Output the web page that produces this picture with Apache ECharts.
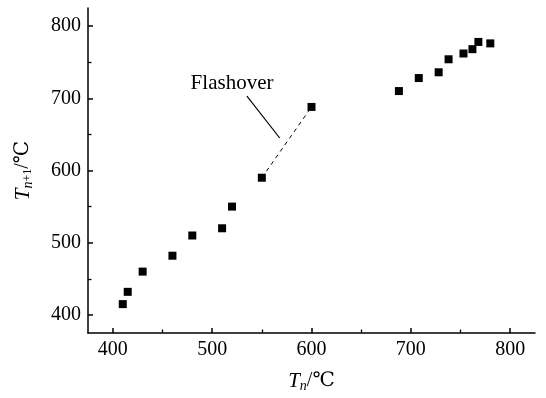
<!DOCTYPE html>
<html>
<head>
<meta charset="utf-8">
<script src="https://cdn.jsdelivr.net/npm/echarts@6/dist/echarts.min.js"></script>
<style>
  html, body { margin: 0; padding: 0; background: #fff; }
  #main { width: 546px; height: 398px; }
</style>
</head>
<body>
<div id="main"></div>
<script>
    // 数据: T_n 与 T_n+1
    var tn  = [410, 415, 430, 460, 480, 510, 520, 550, 600, 688, 708, 728, 738, 753, 762, 768, 780];
    var tn1 = [415, 432, 460, 482, 510, 520, 550, 590, 688, 710, 728, 736, 754, 762, 768, 778, 776];
    // flashover 虚线 (两个点的下标)
    var flashIdx = [7, 8];
    // 引线和标注文字
    var leaderX = [535, 568];
    var leaderY = [703, 645];
    var noteText = 'Flashover';
    var notePos = [520, 720];
    // 刻度
    var ticks = [400, 500, 600, 700, 800];
    var minorTicks = [450, 550, 650, 750];

    var serif = '"Liberation Serif", "DejaVu Serif", serif';
    var points = tn.map(function (v, i) { return [v, tn1[i]]; });
    var dashed = flashIdx.map(function (i) { return [tn[i], tn1[i]]; });
    var leader = leaderX.map(function (v, i) { return [v, leaderY[i]]; });

    function mainAxis() {
        return {
            type: 'value',
            min: 375,
            max: 825,
            axisLine: { show: true, onZero: false, lineStyle: { color: '#000', width: 1.5 } },
            axisTick: { show: true, inside: true, length: 5, customValues: ticks,
                lineStyle: { color: '#000', width: 1.5 } },
            axisLabel: { color: '#000', fontFamily: serif, fontSize: 20, margin: 7, customValues: ticks },
            splitLine: { show: false },
            nameLocation: 'middle'
        };
    }
    // 次刻度用一根不显示轴线的轴
    function minorAxis() {
        return {
            type: 'value',
            min: 375,
            max: 825,
            axisLine: { show: false, onZero: false },
            axisTick: { show: true, inside: true, length: 3.5, customValues: minorTicks,
                lineStyle: { color: '#000', width: 1.3 } },
            axisLabel: { show: false },
            splitLine: { show: false }
        };
    }

    var xAxis = mainAxis();
    xAxis.name = '{t|T}{s|n}{u|/℃}';
    xAxis.nameGap = 36;
    xAxis.nameTextStyle = {
        rich: {
            t: { fontFamily: serif, fontStyle: 'italic', fontSize: 21, color: '#000' },
            s: { fontFamily: serif, fontStyle: 'italic', fontSize: 14, color: '#000', padding: [10, 0, 0, 0] },
            u: { fontFamily: serif, fontSize: 20, color: '#000' }
        }
    };
    var xMinor = minorAxis();
    xMinor.position = 'bottom';

    var yAxis = mainAxis();
    yAxis.name = '{t|T}{s|n}{p|+1}{u|/℃}';
    yAxis.nameGap = 53;
    yAxis.nameTextStyle = {
        rich: {
            t: { fontFamily: serif, fontStyle: 'italic', fontSize: 21, color: '#000' },
            s: { fontFamily: serif, fontStyle: 'italic', fontSize: 14, color: '#000', padding: [10, 0, 0, 0] },
            p: { fontFamily: serif, fontSize: 12, color: '#000', padding: [10, 0, 0, 0] },
            u: { fontFamily: serif, fontSize: 20, color: '#000' }
        }
    };
    var yMinor = minorAxis();
    yMinor.position = 'left';

    var myChart = echarts.init(document.getElementById('main'));
    var option = {
        animation: false,
        backgroundColor: '#fff',
        grid: { left: 88, right: 11, top: 8, bottom: 57, containLabel: false },
        xAxis: [xAxis, xMinor],
        yAxis: [yAxis, yMinor],
        series: [
            {
                type: 'line',
                data: dashed,
                symbol: 'none',
                lineStyle: { color: '#000', width: 1, type: [4, 4] },
                z: 1
            },
            {
                type: 'line',
                data: leader,
                symbol: 'none',
                lineStyle: { color: '#000', width: 1.2 },
                z: 1
            },
            {
                type: 'scatter',
                data: points,
                symbol: 'rect',
                symbolSize: 8,
                itemStyle: { color: '#000', opacity: 1 },
                z: 3
            },
            {
                type: 'scatter',
                data: [notePos],
                symbolSize: 1,
                itemStyle: { color: '#fff', opacity: 1 },
                label: {
                    show: true,
                    position: 'inside',
                    formatter: noteText,
                    fontFamily: serif,
                    fontSize: 21,
                    color: '#000'
                }
            }
        ]
    };
    myChart.setOption(option);
</script>
</body>
</html>
